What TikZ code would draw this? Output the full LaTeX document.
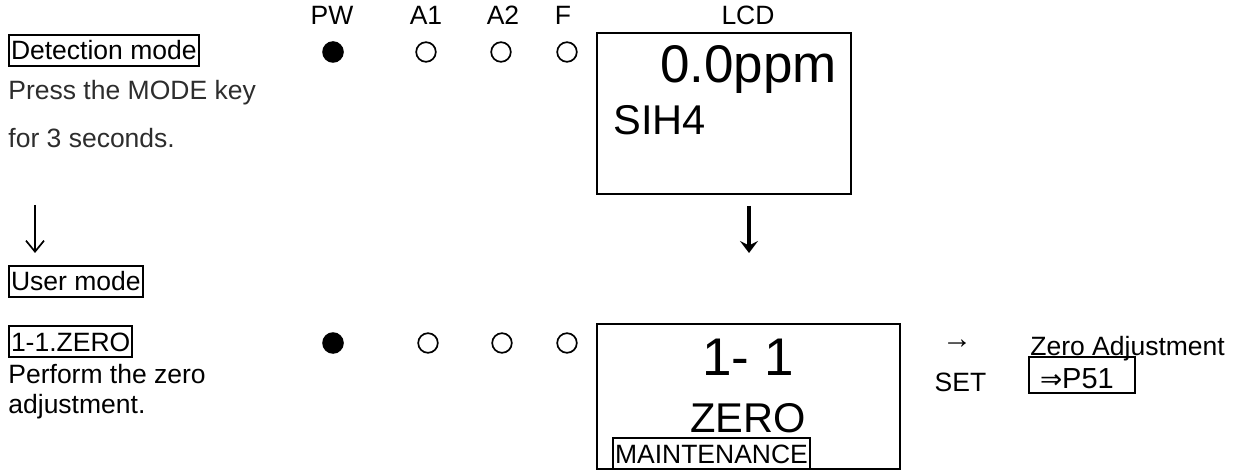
\documentclass[tikz,border=0pt]{standalone}
\usepackage{fontspec}
\setmainfont{Liberation Sans}
\newfontfamily\symfont{DejaVu Sans}
\usepackage{xcolor}
\usetikzlibrary{arrows.meta}
\definecolor{textgrey}{RGB}{45, 45, 45}

\begin{document}
\begin{tikzpicture}[x=0.5pt, y=-0.5pt,
    lbl/.style={font=\fontsize{13.25}{15}\selectfont, inner sep=0pt, anchor=base west},
    boxlbl/.style={lbl, draw, line width=1pt, inner xsep=1pt, text height=12.5pt, text depth=3pt},
    ledname/.style={font=\fontsize{13.25}{15}\selectfont, inner sep=0pt, anchor=base},
    ledon/.style={circle, fill, inner sep=0pt, minimum size=10.8pt},
    ledoff/.style={circle, draw, line width=0.85pt, inner sep=0pt, minimum size=9.8pt},
    lcdbig/.style={font=\fontsize{26.5}{28}\selectfont, inner sep=0pt},
    lcdmid/.style={font=\fontsize{20.8}{24}\selectfont, inner sep=0pt}]
    \useasboundingbox (0,0) rectangle (1236,470);

    % LED and LCD headings
    \node[ledname] (hpw) at (332,25) {PW};
    \node[ledname] (ha1) at (426,25) {A1};
    \node[ledname] (ha2) at (503,25) {A2};
    \node[ledname] (hf) at (563,25) {F};
    \node[ledname] (hlcd) at (748,25) {LCD};

    % detection mode
    \node[boxlbl] (detect) at (8,60) {Detection mode};
    \node[lbl, textgrey] (press1) at (8,100) {Press the MODE key};
    \node[lbl, textgrey] (press2) at (8,148) {for 3 seconds.};
    \node[ledon] (pw1) at (333,52) {};
    \foreach \nm/\x in {a11/426, a21/501, f1/567}
      \node[ledoff] (\nm) at (\x,52) {};
    \draw[line width=1pt] (597,33) rectangle (851,194);
    \node[lcdbig, anchor=base] (ppm) at (748.5,83) {0.0ppm};
    \node[lcdmid, anchor=base west] (gas) at (613,135) {SIH4};

    % arrows down
    \coordinate (dla) at (35,205);
    \coordinate (dlb) at (35,253);
    \draw[line width=0.85pt, -{Straight Barb[length=5.5pt, width=9pt]}] (dla) -- (dlb);
    \coordinate (dra) at (749,206);
    \coordinate (drb) at (749,253);
    \draw[line width=2.1pt, -{Stealth[length=6pt, width=9pt, inset=2.2pt]}] (dra) -- (drb);

    % user mode
    \node[boxlbl] (user) at (8,290.7) {User mode};
    \node[boxlbl] (zero) at (8,351) {1-1.ZERO};
    \node[lbl] (perf1) at (8,383) {Perform the zero};
    \node[lbl] (perf2) at (8,413) {adjustment.};
    \node[ledon] (pw2) at (333,343) {};
    \foreach \nm/\x in {a12/428, a22/502, f2/567}
      \node[ledoff] (\nm) at (\x,343) {};
    \draw[line width=1pt] (597,324) rectangle (900,469);
    \node[lcdbig, anchor=base] (menu) at (748,375) {1- 1};
    \node[lcdmid, anchor=base] (menuname) at (748,432) {ZERO};
    \node[boxlbl] (maint) at (612,463) {MAINTENANCE};

    % set key
    \node[lbl, anchor=center, font=\fontsize{15}{17}\selectfont] (setarr) at (957,344) {→};
    \node[ledname] (setkey) at (960.5,391) {SET};
    \node[lbl] (zadj) at (1030,355) {Zero Adjustment};
    \node[boxlbl, font=\fontsize{14.5}{17}\selectfont, inner xsep=0pt, text height=15.5pt, text depth=2.5pt] (page) at (1028,388)
      {\kern5.5pt{\symfont\fontsize{13.25}{15}\selectfont ⇒}P51\kern10.5pt};
\end{tikzpicture}
\end{document}
